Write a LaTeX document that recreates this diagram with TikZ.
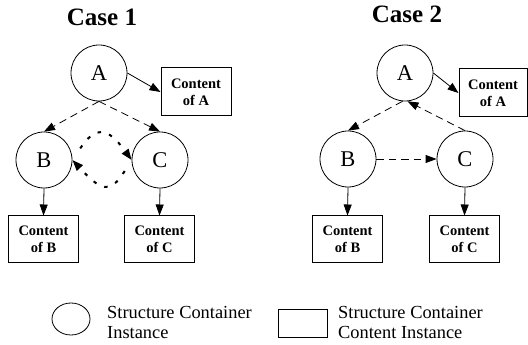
\documentclass[tikz,border=0pt]{standalone}
\usepackage{fontspec}
\setmainfont{Liberation Serif}
\usetikzlibrary{arrows.meta,shapes.geometric}

\begin{document}
\begin{tikzpicture}[x=1pt,y=1pt,>={Triangle[length=11pt,width=8pt]},
  inst/.style={draw,circle,minimum size=56pt,inner sep=0pt,line width=0.8pt,font=\fontsize{22.5}{26}\selectfont},
  content/.style={draw,rectangle,minimum width=70pt,minimum height=47pt,inner sep=0pt,line width=1pt,align=center,font=\fontsize{14.5}{17}\selectfont\bfseries},
  casetitle/.style={anchor=base,font=\fontsize{25}{30}\selectfont\bfseries},
  legendtext/.style={anchor=west,align=left,inner sep=0pt,font=\fontsize{18.4}{20}\selectfont},
  link/.style={->,line width=0.8pt},
  dashlink/.style={->,line width=0.8pt,dash pattern=on 7.5pt off 5pt},
  dotlink/.style={->,line width=2pt,dash pattern=on 3.5pt off 8.5pt}]
\useasboundingbox (0,0) rectangle (528,345);

\node[casetitle] (title1) at (102,319) {Case 1};
\node[inst] (A1) at (99,272) {A};
\node[content,minimum width=70pt,minimum height=48pt] (CA1) at (196,253) {Content\\of A};
\node[inst] (B1) at (44,185) {B};
\node[inst] (C1) at (160,185) {C};
\node[content] (CB1) at (43.5,105.5) {Content\\of B};
\node[content] (CC1) at (159.5,105.5) {Content\\of C};

\draw[link] (A1.east) -- (CA1.west);
\draw[dashlink] (A1.south) -- (B1.north);
\draw[dashlink] (A1.south) -- (C1.north);
\draw[dotlink,shorten <=14pt] (B1.east) to[out=56,in=126,looseness=1.8] (C1.west);
\draw[dotlink,shorten <=13pt] (C1.west) to[out=-122,in=-47,looseness=1.8] (B1.east);
\draw[link] (B1.south) -- (CB1.north);
\draw[link] (C1.south) -- (CC1.north);

\node[casetitle] (title2) at (407,322) {Case 2};
\node[inst] (A2) at (405,272) {A};
\node[content,minimum width=68pt,minimum height=48pt] (CA2) at (493,252) {Content\\of A};
\node[inst] (B2) at (348,186) {B};
\node[inst] (C2) at (465,186) {C};
\node[content] (CB2) at (347.5,105.5) {Content\\of B};
\node[content] (CC2) at (464.5,105.5) {Content\\of C};

\draw[link] (A2.east) -- (CA2.west);
\draw[dashlink] (A2.-95) -- (B2.north);
\draw[dashlink] (C2.north) -- (A2.-85);
\draw[dashlink] (B2.east) -- (C2.west);
\draw[link] (B2.south) -- (CB2.north);
\draw[link] (C2.south) -- (CC2.north);

\node[draw,ellipse,minimum width=38pt,minimum height=32pt,inner sep=0pt,line width=0.8pt] (key1) at (71,26) {};
\node[legendtext] (keytext1) at (107,22) {Structure Container\\Instance};
\node[draw,rectangle,minimum width=49pt,minimum height=28pt,inner sep=0pt,line width=1pt] (key2) at (302.5,21) {};
\node[legendtext] (keytext2) at (338,22) {Structure Container\\Content Instance};
\end{tikzpicture}
\end{document}
